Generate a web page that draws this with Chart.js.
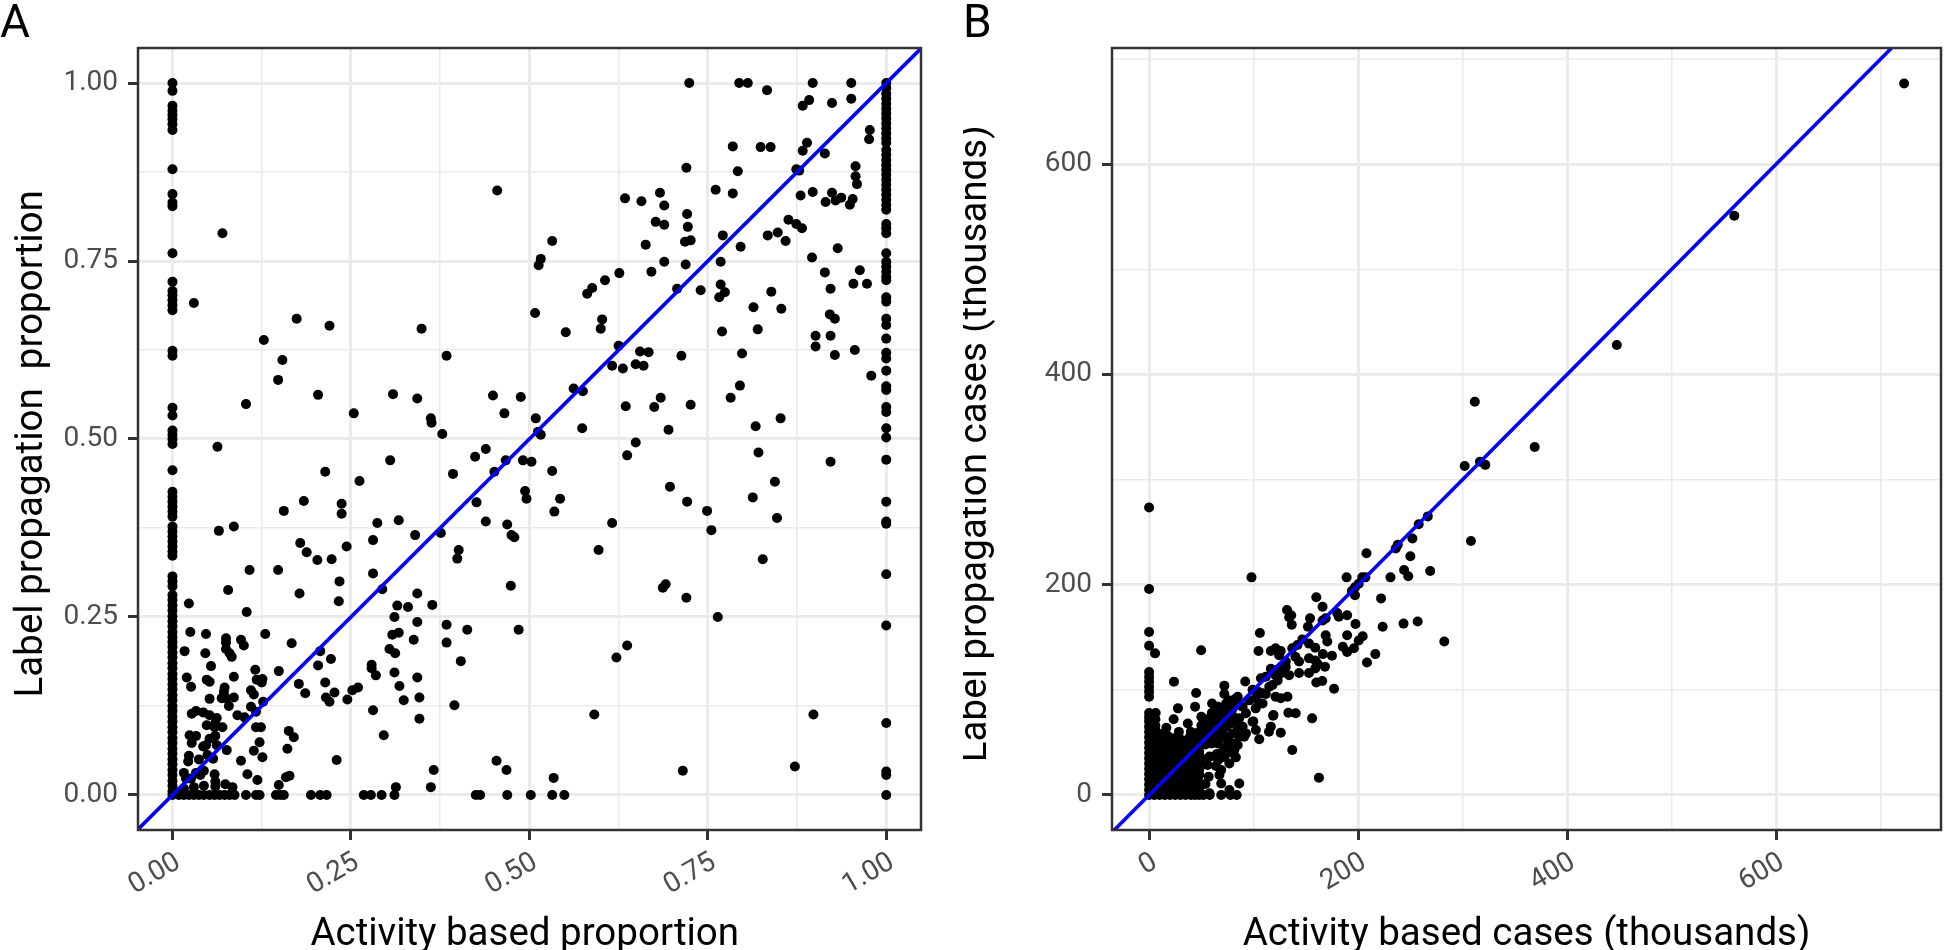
<!DOCTYPE html>
<html>
<head>
<meta charset="utf-8">
<title>Label propagation vs activity based</title>
<script src="https://cdn.jsdelivr.net/npm/chart.js@4"></script>
<style>
    html, body { margin: 0; padding: 0; background: #fff; overflow: hidden; }
    canvas { position: absolute; top: 0; }
    #canvasA { left: 0; }
    #canvasB { left: 963px; }
</style>
</head>
<body>
<canvas id="canvasA" width="960" height="950"></canvas>
<canvas id="canvasB" width="983" height="950"></canvas>
<script>
// panel A: share of each area, x = activity based, y = label propagation
var majorTicksA = [0, 0.25, 0.5, 0.75, 1];
var minorTicksA = [0.125, 0.375, 0.625, 0.875];
var identityA = [-0.06, 1.06];

// areas with activity proportion exactly 0
var columnZeroA = [1, 0.989, 0.968, 0.961, 0.955, 0.949, 0.942, 0.934, 0.879, 0.844, 0.832, 0.827, 0.761, 0.721, 0.708, 0.702,
    0.695, 0.688, 0.681, 0.624, 0.617, 0.544, 0.533, 0.512, 0.506, 0.5, 0.493, 0.456, 0.426, 0.419, 0.412, 0.405, 0.398, 0.391,
    0.377, 0.37, 0.363, 0.356, 0.349, 0.342, 0.336, 0.307, 0.3, 0.293, 0.281, 0.274, 0.266, 0.259, 0.251, 0.244, 0.237, 0.229,
    0.222, 0.215, 0.208, 0.2, 0.193, 0.185, 0.178, 0.17, 0.163, 0.155, 0.148, 0.14, 0.133, 0.125, 0.118, 0.11, 0.103, 0.095,
    0.088, 0.08, 0.073, 0.065, 0.058, 0.05, 0.043, 0.035, 0.028, 0.02, 0.013, 0.005, 0];

// areas with activity proportion exactly 1
var columnOneA = [1, 0.993, 0.985, 0.978, 0.971, 0.964, 0.957, 0.95, 0.943, 0.936, 0.929, 0.922, 0.916, 0.906, 0.899, 0.892,
    0.885, 0.878, 0.871, 0.864, 0.857, 0.85, 0.843, 0.836, 0.829, 0.822, 0.802, 0.796, 0.789, 0.761, 0.749, 0.742, 0.735, 0.728,
    0.723, 0.699, 0.693, 0.669, 0.66, 0.641, 0.621, 0.613, 0.596, 0.574, 0.569, 0.545, 0.538, 0.515, 0.502, 0.471, 0.412, 0.384,
    0.381, 0.31, 0.238, 0.101, 0.033, 0.028, 0];

// areas with label propagation proportion exactly 0
var rowZeroA = [0.009, 0.016, 0.023, 0.03, 0.037, 0.044, 0.052, 0.059, 0.066, 0.073, 0.08, 0.087, 0.103, 0.117, 0.122, 0.145,
    0.151, 0.156, 0.194, 0.207, 0.216, 0.268, 0.278, 0.293, 0.311, 0.425, 0.431, 0.469, 0.502, 0.532, 0.549];

var pointsA = [
    [0.07, 0.789], [0.03, 0.691], [0.174, 0.669], [0.22, 0.659], [0.128, 0.639], [0.154, 0.611], [0.349, 0.655], [0.384, 0.617],
    [0.148, 0.583], [0.204, 0.562], [0.309, 0.563], [0.343, 0.557], [0.449, 0.561], [0.455, 0.849], [0.103, 0.549], [0.254, 0.536],
    [0.362, 0.529], [0.363, 0.523], [0.378, 0.507], [0.439, 0.486], [0.063, 0.489],
    [0.724, 1], [0.794, 1], [0.806, 1], [0.833, 0.99], [0.897, 1], [0.951, 1], [0.951, 0.978], [0.892, 0.976], [0.883, 0.968],
    [0.924, 0.972], [0.977, 0.934], [0.976, 0.921], [0.889, 0.916], [0.883, 0.905], [0.785, 0.911], [0.824, 0.91], [0.838, 0.91],
    [0.914, 0.901], [0.72, 0.881], [0.792, 0.876], [0.874, 0.879], [0.878, 0.877], [0.957, 0.883], [0.957, 0.869], [0.959, 0.858],
    [0.761, 0.85], [0.785, 0.845], [0.88, 0.842], [0.897, 0.847], [0.924, 0.846], [0.915, 0.833], [0.929, 0.835], [0.937, 0.839],
    [0.953, 0.837], [0.949, 0.829], [0.634, 0.838], [0.657, 0.834], [0.683, 0.846], [0.689, 0.828], [0.721, 0.816], [0.677, 0.805],
    [0.689, 0.801], [0.722, 0.798], [0.863, 0.808], [0.874, 0.802], [0.882, 0.796], [0.771, 0.786], [0.834, 0.786], [0.848, 0.79],
    [0.859, 0.778], [0.726, 0.779], [0.718, 0.777], [0.663, 0.773], [0.796, 0.77], [0.532, 0.778], [0.516, 0.753], [0.513, 0.744],
    [0.932, 0.768], [0.896, 0.755], [0.689, 0.749], [0.719, 0.745], [0.768, 0.749], [0.626, 0.733], [0.671, 0.735], [0.914, 0.734],
    [0.963, 0.737], [0.954, 0.718], [0.973, 0.718], [0.606, 0.723], [0.588, 0.712], [0.581, 0.704], [0.707, 0.711], [0.74, 0.709],
    [0.768, 0.717], [0.774, 0.706], [0.766, 0.699], [0.839, 0.707], [0.922, 0.711], [0.814, 0.685], [0.853, 0.683], [0.508, 0.677],
    [0.602, 0.668], [0.6, 0.655], [0.551, 0.65], [0.77, 0.651], [0.82, 0.654], [0.921, 0.675], [0.928, 0.669], [0.901, 0.645],
    [0.922, 0.645], [0.901, 0.63], [0.625, 0.631], [0.655, 0.623], [0.667, 0.622], [0.713, 0.617], [0.798, 0.62], [0.956, 0.625],
    [0.928, 0.618], [0.616, 0.603], [0.631, 0.599], [0.649, 0.605], [0.66, 0.603], [0.979, 0.589], [0.795, 0.575], [0.562, 0.571],
    [0.575, 0.567], [0.782, 0.558], [0.488, 0.559], [0.465, 0.536], [0.684, 0.558], [0.635, 0.546], [0.675, 0.545], [0.726, 0.548],
    [0.852, 0.529], [0.817, 0.518], [0.509, 0.529], [0.512, 0.51], [0.516, 0.506], [0.574, 0.515], [0.695, 0.513], [0.649, 0.495],
    [0.637, 0.477], [0.821, 0.481], [0.467, 0.47], [0.491, 0.47], [0.503, 0.468], [0.922, 0.468],
    [0.451, 0.454], [0.532, 0.455], [0.494, 0.427], [0.496, 0.416], [0.543, 0.416], [0.535, 0.398], [0.697, 0.433], [0.721, 0.412],
    [0.749, 0.399], [0.755, 0.372], [0.844, 0.44], [0.813, 0.418], [0.847, 0.389], [0.439, 0.384], [0.469, 0.38], [0.475, 0.365],
    [0.479, 0.362], [0.616, 0.382], [0.597, 0.344], [0.827, 0.331], [0.474, 0.294], [0.691, 0.296], [0.687, 0.291], [0.72, 0.277],
    [0.764, 0.25], [0.485, 0.232], [0.637, 0.21], [0.622, 0.193], [0.591, 0.113], [0.898, 0.113], [0.454, 0.048], [0.468, 0.035],
    [0.872, 0.04], [0.715, 0.034], [0.534, 0.024],
    [0.305, 0.47], [0.214, 0.454], [0.262, 0.441], [0.424, 0.475], [0.393, 0.451], [0.426, 0.411], [0.184, 0.413], [0.156, 0.399],
    [0.237, 0.409], [0.237, 0.395], [0.287, 0.382], [0.317, 0.386], [0.065, 0.371], [0.086, 0.377], [0.34, 0.365], [0.376, 0.368],
    [0.179, 0.354], [0.188, 0.341], [0.203, 0.33], [0.223, 0.331], [0.244, 0.349], [0.281, 0.358], [0.401, 0.344], [0.399, 0.332],
    [0.108, 0.316], [0.148, 0.316], [0.281, 0.311], [0.234, 0.3], [0.294, 0.289], [0.078, 0.288], [0.178, 0.283], [0.343, 0.283],
    [0.023, 0.269], [0.233, 0.272], [0.315, 0.266], [0.33, 0.264], [0.364, 0.267], [0.104, 0.257], [0.311, 0.25], [0.343, 0.243],
    [0.384, 0.239], [0.025, 0.229], [0.047, 0.226], [0.13, 0.226], [0.317, 0.228], [0.308, 0.225], [0.413, 0.232], [0.075, 0.22],
    [0.096, 0.218], [0.338, 0.218], [0.384, 0.214], [0.167, 0.213], [0.075, 0.214], [0.1, 0.21], [0.017, 0.202], [0.046, 0.199],
    [0.075, 0.205], [0.08, 0.199], [0.083, 0.194], [0.207, 0.202], [0.304, 0.205], [0.312, 0.199], [0.222, 0.191], [0.054, 0.181],
    [0.204, 0.182], [0.404, 0.188], [0.279, 0.183], [0.279, 0.178], [0.116, 0.176], [0.149, 0.174], [0.311, 0.172], [0.285, 0.168],
    [0.02, 0.165], [0.048, 0.162], [0.052, 0.159], [0.086, 0.166], [0.118, 0.162], [0.126, 0.163], [0.125, 0.158], [0.214, 0.158],
    [0.343, 0.165], [0.177, 0.156], [0.026, 0.152], [0.073, 0.151], [0.318, 0.153], [0.26, 0.151], [0.252, 0.147], [0.227, 0.144],
    [0.186, 0.143], [0.072, 0.145], [0.11, 0.147], [0.114, 0.141], [0.069, 0.136], [0.086, 0.137], [0.075, 0.136], [0.052, 0.135],
    [0.215, 0.137], [0.346, 0.137], [0.245, 0.134], [0.324, 0.133], [0.22, 0.131], [0.127, 0.131], [0.079, 0.125], [0.11, 0.124],
    [0.395, 0.126], [0.033, 0.118], [0.027, 0.114], [0.043, 0.116], [0.052, 0.112], [0.062, 0.108], [0.117, 0.117], [0.091, 0.112],
    [0.101, 0.109], [0.281, 0.119], [0.06, 0.101], [0.346, 0.107], [0.048, 0.098], [0.07, 0.095], [0.059, 0.095], [0.117, 0.095],
    [0.124, 0.095], [0.163, 0.09], [0.17, 0.081], [0.296, 0.084], [0.024, 0.084], [0.033, 0.083], [0.06, 0.083], [0.052, 0.079],
    [0.027, 0.073], [0.047, 0.07], [0.062, 0.07], [0.043, 0.068], [0.122, 0.074], [0.076, 0.063], [0.161, 0.065], [0.114, 0.062],
    [0.023, 0.055], [0.037, 0.05], [0.049, 0.056], [0.057, 0.051], [0.126, 0.053], [0.022, 0.047], [0.096, 0.048], [0.23, 0.049],
    [0.044, 0.034], [0.016, 0.031], [0.033, 0.031], [0.039, 0.028], [0.059, 0.029], [0.105, 0.029], [0.366, 0.035], [0.159, 0.025],
    [0.164, 0.027], [0.019, 0.023], [0.026, 0.023], [0.06, 0.019], [0.119, 0.021], [0.044, 0.013], [0.149, 0.014], [0.313, 0.011],
    [0.362, 0.011], [0.06, 0.012], [0.074, 0.015], [0.084, 0.011], [0.03, 0.011], [0.016, 0.009]
];

// panel B: cases in thousands
var majorTicksB = [0, 200, 400, 600];
var minorTicksBx = [100, 300, 500, 700];
var minorTicksBy = [100, 300, 500, 700];
var identityB = [-40, 800];

var columnZeroB = [273.5, 196, 155, 142, 117, 112.5, 107.8, 103, 98.3, 93.5, 78, 74, 70, 65, 60, 55, 50, 45, 40, 35, 30, 25, 20,
    15, 10, 5, 0];
var rowZeroB = [5, 10, 15, 20, 25, 30, 35, 40, 44, 48, 52, 58, 69, 77.8, 83.8];

var pointsB = [
    [722.5, 676.7], [560, 551], [447.6, 428], [369, 331], [311.7, 374], [302, 313], [316.6, 317], [321.7, 314], [308, 241.5],
    [5.7, 134.7], [49.8, 137.6], [98, 207], [208, 230], [189, 207], [204, 207], [207, 207], [266.7, 265], [258, 257.5], [252, 244],
    [238, 238], [236, 234.5], [250, 227], [244, 214], [248, 208], [269, 213], [231, 207], [200.6, 201], [197, 197.5], [194, 194],
    [197, 190], [222, 187], [160, 188], [166, 179], [132, 176], [136, 171], [134, 169], [136.5, 162], [154, 168], [152, 160],
    [169, 168], [166, 166], [180, 173], [189.5, 171], [181.6, 169.6], [197.5, 162.6], [223.5, 160], [243.5, 163], [257, 165],
    [106, 154], [169, 152], [170.5, 146], [189.5, 152], [204.4, 151], [200.6, 147], [196, 139.5], [185.4, 141], [189.5, 136],
    [282.5, 146], [216.5, 134], [208.5, 126], [104.7, 137], [116.5, 137], [121, 139.5], [126, 137], [137, 139.5], [142, 142.6],
    [146.7, 148], [153, 144], [159, 140], [124.4, 133], [140, 131.5], [143.5, 127], [153, 130], [159, 128], [166.3, 134], [175, 132.5],
    [168.3, 122], [159, 120.4], [153, 116], [143.5, 116], [161, 125], [134, 114], [130.8, 122], [116.5, 120], [127, 116], [123, 109],
    [118, 104.6], [111.7, 112.5], [107, 111], [160, 107], [165.7, 108.4], [177, 101], [92, 108], [72, 104], [72, 96], [99, 100],
    [105, 98], [111.7, 96], [121, 93.5], [132.4, 93.5], [126, 92], [108.6, 87], [84.8, 93.5], [80, 88.7], [73.7, 87], [133.3, 78.3],
    [140.3, 77.7], [118.7, 75.4], [156, 72.9], [92.7, 77.7], [102, 82.4], [99, 69.7], [76.8, 74.5], [86.3, 73], [116.5, 65],
    [102.2, 61.8], [126, 59.3], [114.7, 60.2], [105.4, 53], [92.7, 58.6], [84.8, 61.8], [137, 42.8], [162.5, 16.5],
    [86.3, 85.6], [96, 90], [102, 92], [108.6, 96.7], [115, 103], [121, 114], [124.4, 120], [130.8, 127], [80, 82.4], [70.5, 77.7],
    [89.5, 84], [105.4, 87], [78.4, 68], [89.5, 65], [73.7, 65], [83, 69.7], [86.3, 55.5], [80, 58.6], [71.4, 57], [75.2, 52], [83.2, 49],
    [23.8, 107.8], [45, 97], [27.6, 82.4], [44, 84], [60.3, 87], [6.3, 78], [23.5, 72], [37, 68], [50, 74.5], [119, 76], [16.5, 64],
    [28.5, 60], [99.7, 70], [86.3, 11], [76.8, 4.8], [57.8, 1.6], [54, 10.5], [69, 11], [67.3, 19], [69, 23.8], [64, 27.6], [76.8, 30],
    [83, 35.8], [81.6, 42.8], [84.8, 47.5], [57, 17.4], [56, 28.5], [46.7, 14], [41.9, 23.8], [57.8, 36.5], [64.7, 39], [76.8, 50.7],
    [65.7, 49], [91, 55.5],
    [40, 60], [46, 59], [52, 61], [58, 60], [64, 60], [70, 61], [38, 54], [44, 55], [50, 53], [56, 54], [62, 55], [68, 54], [74, 46],
    [36, 48], [42, 49], [48, 47], [54, 48], [60, 49], [71, 42], [78, 44], [36, 42], [42, 43], [48, 41], [72, 36], [80, 40], [36, 36],
    [44, 36], [50, 35], [66, 33], [36, 30], [42, 30], [48, 31], [36, 24], [48, 24], [36, 18], [42, 18], [48, 19], [36, 12], [42, 11],
    [36, 6], [40, 5], [48, 6], [50, 66], [56, 66], [62, 67], [68, 66], [74, 70], [80, 75], [56, 72], [62, 73], [68, 72], [74, 80],
    [60, 78], [66, 79], [72, 72], [66, 84], [70, 83], [76, 85], [76, 90], [82, 91],
    [6, 72], [12, 58], [18, 56], [24, 54], [30, 53], [6, 62], [6, 66], [6, 54], [12, 52], [18, 50], [24, 49], [30, 48],
    [6, 48], [12, 46], [18, 44], [24, 43], [30, 42], [6, 42], [12, 40], [18, 38], [24, 37], [30, 36],
    [6, 36], [12, 34], [18, 32], [24, 31], [30, 30], [6, 30], [12, 28], [18, 26], [24, 25], [30, 24],
    [6, 24], [12, 22], [18, 20], [24, 19], [30, 18], [6, 18], [12, 16], [18, 14], [24, 13], [30, 12],
    [6, 12], [12, 10], [18, 8], [24, 7], [30, 6], [6, 6], [12, 4], [18, 3], [24, 2], [30, 2],
    [3, 57], [9, 55], [15, 53], [21, 51], [27, 50], [33, 50], [3, 51], [9, 49], [15, 47], [21, 46], [27, 45], [33, 44],
    [3, 45], [9, 43], [15, 41], [21, 40], [27, 39], [33, 39], [3, 39], [9, 37], [15, 35], [21, 34], [27, 33], [33, 33],
    [3, 33], [9, 31], [15, 29], [21, 28], [27, 27], [33, 27], [3, 27], [9, 25], [15, 23], [21, 22], [27, 21], [33, 21],
    [3, 21], [9, 19], [15, 17], [21, 16], [27, 15], [33, 15], [3, 15], [9, 13], [15, 11], [21, 10], [27, 9], [33, 9],
    [3, 9], [9, 7], [15, 5], [21, 4], [27, 3], [33, 3], [39, 45], [45, 39], [39, 33], [45, 27], [39, 21], [45, 15], [39, 9], [45, 10]
];

var xTitleA = 'Activity based proportion ';
var yTitleA = 'Label propagation  proportion ';
var xTitleB = 'Activity based cases (thousands)';
var yTitleB = 'Label propagation cases (thousands) ';

Chart.defaults.font.family = 'Roboto';
Chart.defaults.animation = false;

var panelBorder = {
    id: 'panelBorder',
    afterDatasetsDraw: function (chart) {
        var a = chart.chartArea, ctx = chart.ctx;
        ctx.save();
        ctx.strokeStyle = '#333333';
        ctx.lineWidth = 2.5;
        ctx.strokeRect(a.left, a.top, a.right - a.left, a.bottom - a.top);
        ctx.restore();
    }
};

function makeAxis(major, minor, min, max, title, isX, labelFn, thick, titleGap) {
    return {
        type: 'linear',
        min: min,
        max: max,
        afterBuildTicks: function (scale) {
            scale.ticks = major.concat(minor).sort(function (a, b) { return a - b; }).map(function (v) { return { value: v }; });
        },
        afterFit: function (scale) {
            if (isX) scale.height = 120; else scale.width = thick;
        },
        grid: {
            color: '#EBEBEB',
            lineWidth: function (c) { return major.indexOf(c.tick.value) >= 0 ? 3 : 1.6; },
            tickColor: function (c) { return major.indexOf(c.tick.value) >= 0 ? '#333333' : 'rgba(0,0,0,0)'; },
            tickWidth: function (c) { return major.indexOf(c.tick.value) >= 0 ? 3 : 0; },
            tickLength: 10
        },
        border: { display: false },
        ticks: {
            autoSkip: false,
            color: '#4D4D4D',
            font: { size: 28 },
            padding: isX ? 6 : 10,
            maxRotation: isX ? 30 : 0,
            minRotation: isX ? 30 : 0,
            labelOffset: isX ? 6 : 0,
            callback: function (v) { return major.indexOf(v) >= 0 ? labelFn(v) : ''; }
        },
        title: {
            display: true,
            text: title,
            color: '#000000',
            font: { size: 38.5 },
            padding: { top: titleGap, bottom: titleGap }
        }
    };
}

function pair(p) { return { x: p[0], y: p[1] }; }

function drawPanel(id, tag, points, line, xAxis, yAxis, paddingRight) {
    new Chart(document.getElementById(id).getContext('2d'), {
        type: 'scatter',
        data: {
            datasets: [{
                label: 'identity',
                data: line.map(function (v) { return { x: v, y: v }; }),
                showLine: true,
                borderColor: '#0000FF',
                borderWidth: 3.6,
                pointRadius: 0,
                order: 0
            }, {
                label: 'areas',
                data: points,
                backgroundColor: '#000000',
                borderWidth: 0,
                pointRadius: 5,
                order: 1
            }]
        },
        options: {
            responsive: false,
            devicePixelRatio: 1,
            layout: { padding: { left: 0, top: 0, right: paddingRight, bottom: 0 } },
            scales: { x: xAxis, y: yAxis },
            plugins: {
                legend: { display: false },
                tooltip: { enabled: false },
                title: {
                    display: true,
                    text: tag,
                    align: 'start',
                    color: '#000000',
                    font: { size: 46, weight: 'normal', lineHeight: 1 },
                    padding: { top: 2, bottom: 0 }
                }
            }
        },
        plugins: [panelBorder]
    });
}

var dataA = pointsA.map(pair)
    .concat(columnZeroA.map(function (v) { return { x: 0, y: v }; }))
    .concat(columnOneA.map(function (v) { return { x: 1, y: v }; }))
    .concat(rowZeroA.map(function (v) { return { x: v, y: 0 }; }));

var dataB = pointsB.map(pair)
    .concat(columnZeroB.map(function (v) { return { x: 0, y: v }; }))
    .concat(rowZeroB.map(function (v) { return { x: v, y: 0 }; }));

drawPanel('canvasA', 'A', dataA, identityA,
    makeAxis(majorTicksA, minorTicksA, -0.0483, 1.0487, xTitleA, true, function (v) { return v.toFixed(2); }, 0, -8),
    makeAxis(majorTicksA, minorTicksA, -0.0492, 1.0492, yTitleA, false, function (v) { return v.toFixed(2); }, 138, 9.5),
    39);

drawPanel('canvasB', 'B', dataB, identityB,
    makeAxis(majorTicksB, minorTicksBx, -35.5, 757.8, xTitleB, true, String, 0, -8),
    makeAxis(majorTicksB, minorTicksBy, -33.3, 710.5, yTitleB, false, String, 149, -10),
    1);
</script>
</body>
</html>
